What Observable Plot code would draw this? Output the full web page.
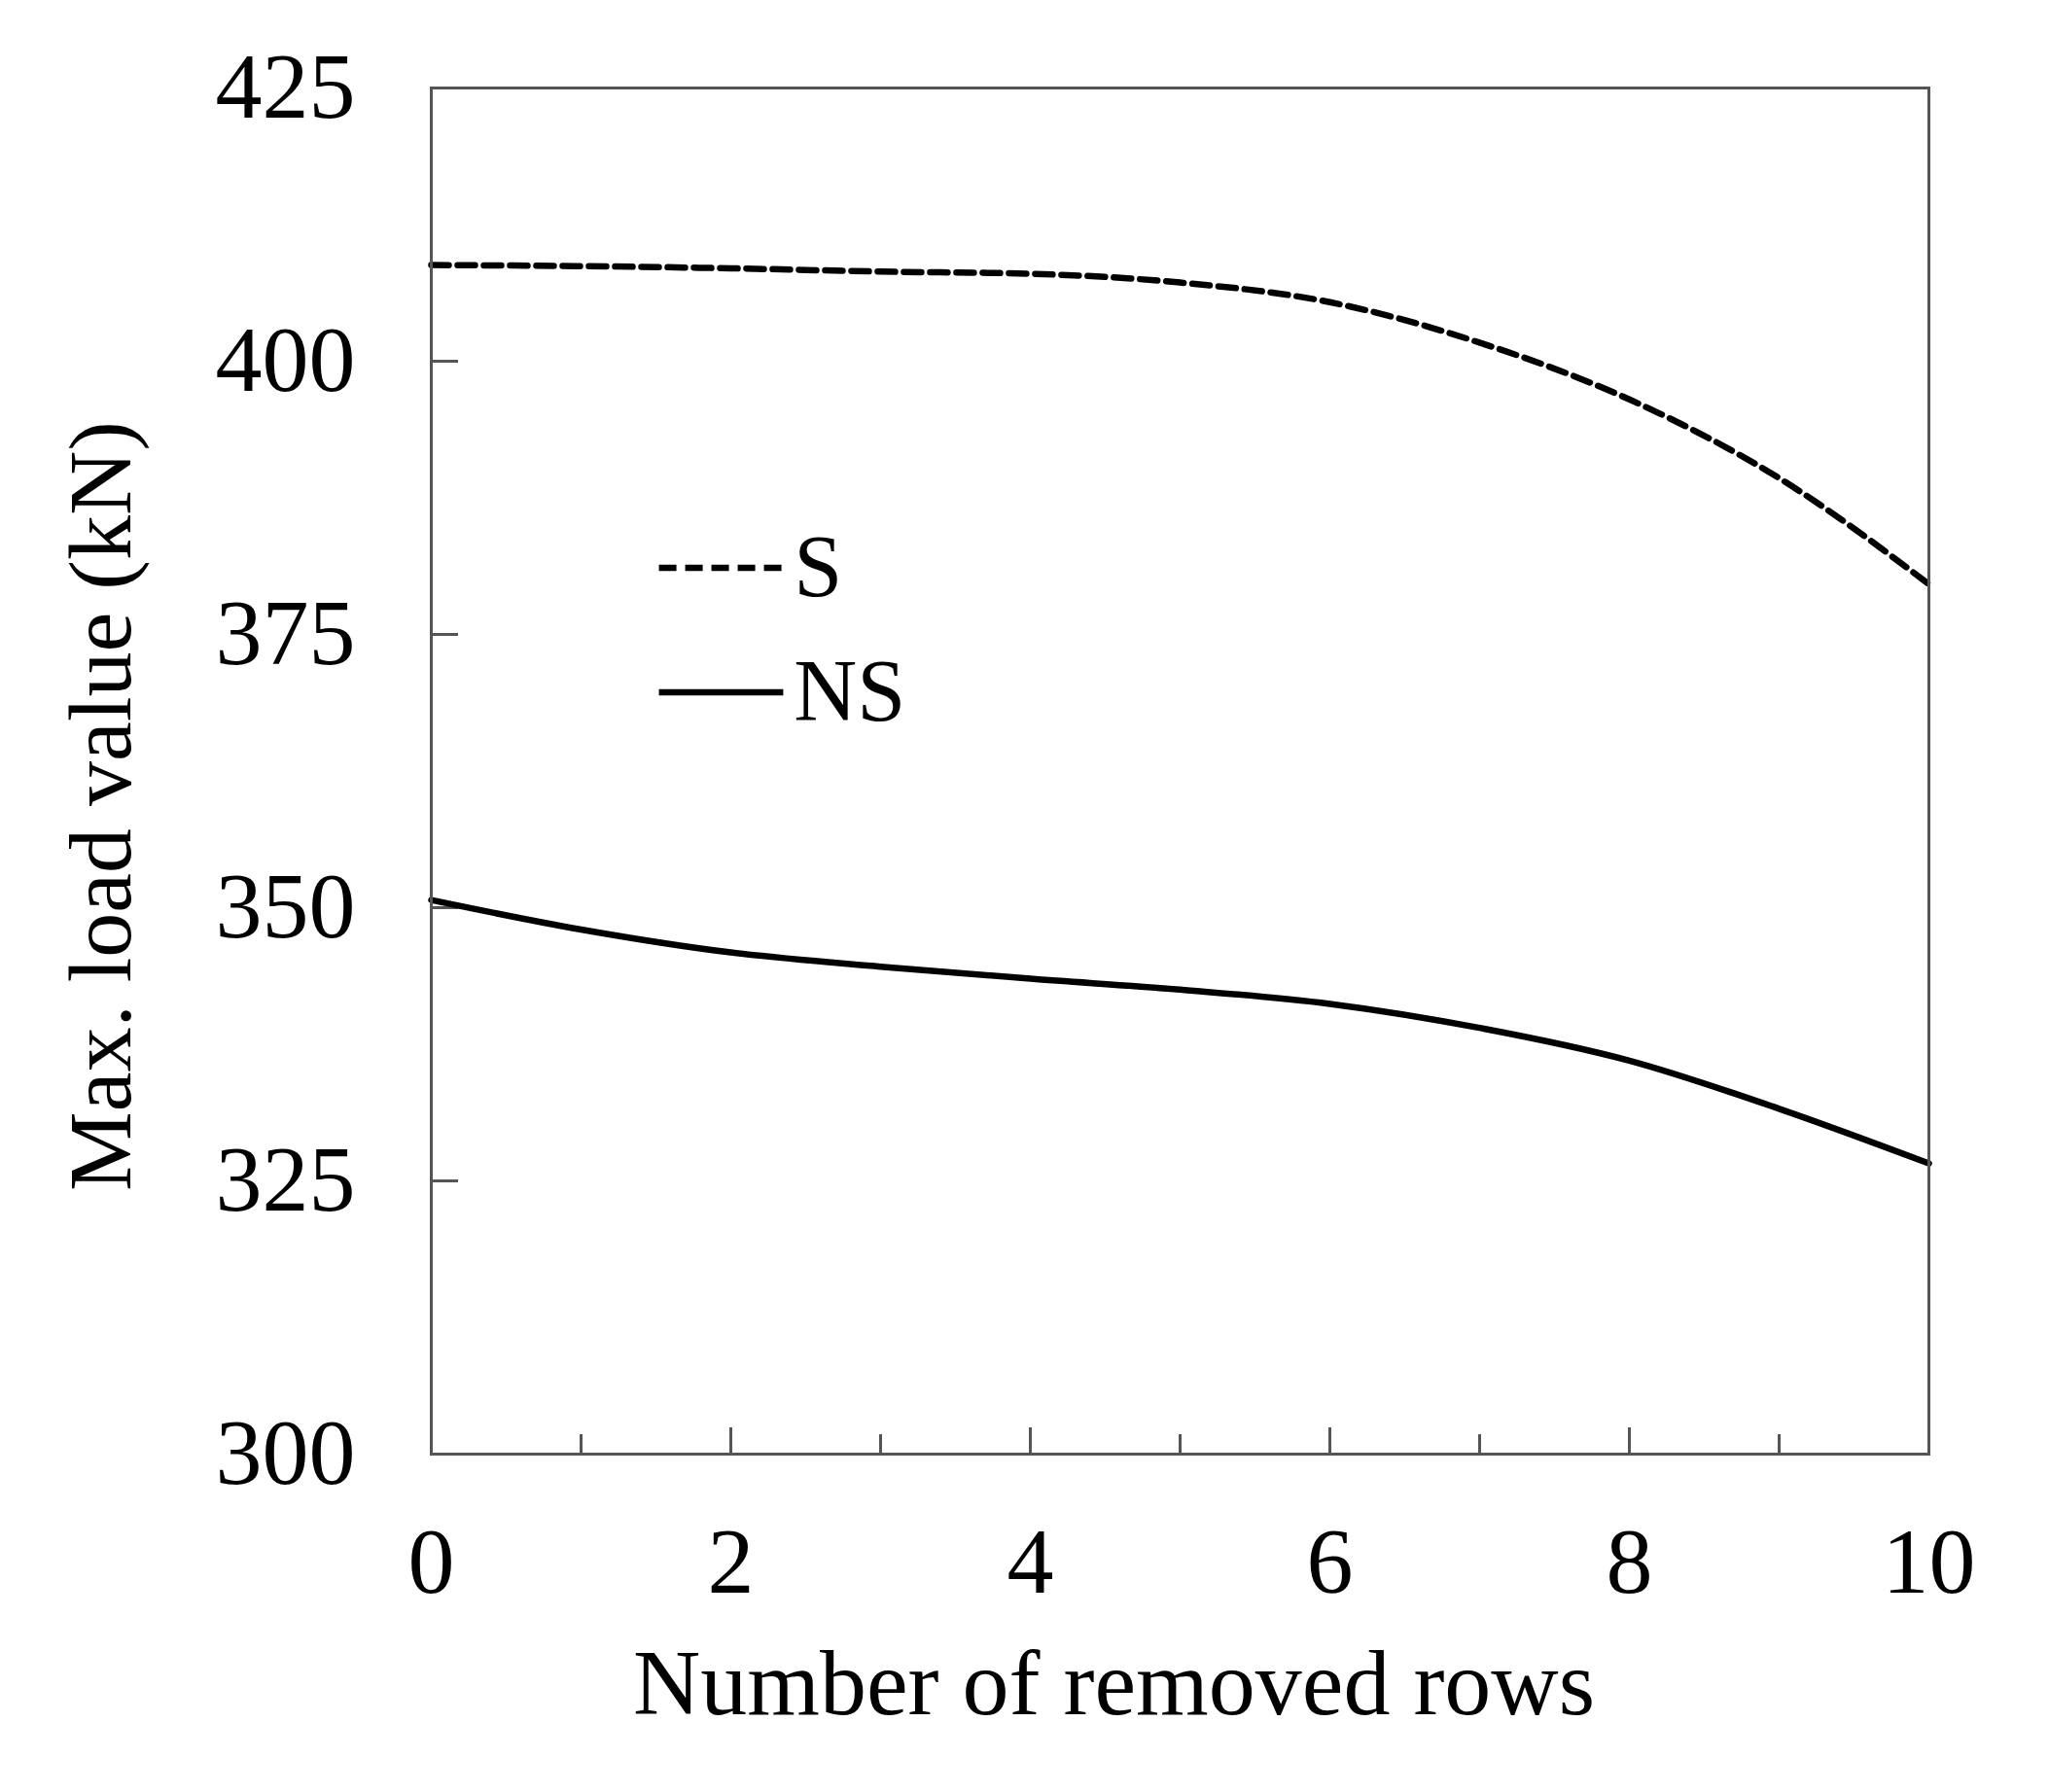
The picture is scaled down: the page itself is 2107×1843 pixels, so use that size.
<!DOCTYPE html>
<html>
<head>
<meta charset="utf-8">
<script src="https://cdn.jsdelivr.net/npm/d3@7"></script>
<script src="https://cdn.jsdelivr.net/npm/@observablehq/plot@0.6"></script>
<style>
  html, body { margin: 0; padding: 0; background: #fff; }
  #chart svg { display: block; }
</style>
</head>
<body>
<div id="chart"></div>
<script>
// ---- data ----
const removedRows = [0, 1, 2, 3, 4, 5, 6, 7, 8, 9, 10];
const seriesS  = [408.8, 408.7, 408.5, 408.2, 408.0, 407.2, 405.4, 401.7, 396.5, 389.3, 379.6];
const seriesNS = [350.7, 348.0, 345.9, 344.6, 343.5, 342.5, 341.2, 339.0, 336.0, 331.6, 326.6];
const xMajorTicks = [0, 2, 4, 6, 8, 10];
const xMinorTicks = [1, 3, 5, 7, 9];
const yTicks = [300, 325, 350, 375, 400, 425];
const seriesNames = ["S", "NS"];
const xLabel = "Number of removed rows";
const yLabel = "Max. load value (kN)";

// ---- table ----
const rows = [];
removedRows.forEach((r, i) => {
  rows.push({rows: r, load: seriesS[i], series: "S"});
  rows.push({rows: r, load: seriesNS[i], series: "NS"});
});

// legend layout (data-space anchors inside the frame)
const legendS  = [{series: seriesNames[0], x1: 1.52, x2: 2.35, y: 381.1, tx: 2.42}];
const legendNS = [{series: seriesNames[1], x1: 1.52, x2: 2.35, y: 369.7, tx: 2.42}];

const FONT = "'Times New Roman', 'Liberation Serif', serif";
const AXIS = "#555";
const LW = 6.5;
const DASH = "18,9";

const chart = Plot.plot({
  width: 2107,
  height: 1843,
  marginLeft: 443,
  marginRight: 124,
  marginTop: 90,
  marginBottom: 348,
  style: {fontFamily: FONT, fontSize: "96px", color: "#000", background: "#fff"},
  x: {domain: [0, 10]},
  y: {domain: [300, 425]},
  marks: [
    // tick labels
    Plot.axisX({ticks: xMajorTicks, tickSize: 0, tickPadding: 74, label: null, fontSize: 96, tickFormat: d3.format("d")}),
    Plot.axisY({ticks: yTicks, tickSize: 0, tickPadding: 78, label: null, fontSize: 96, tickFormat: d3.format("d")}),
    // inward ticks
    Plot.axisX({ticks: xMajorTicks.filter(d => d > 0 && d < 10), tickSize: -27, fill: "none", stroke: AXIS, strokeWidth: 3, label: null}),
    Plot.axisX({ticks: xMinorTicks, tickSize: -20, fill: "none", stroke: AXIS, strokeWidth: 3, label: null}),
    Plot.axisY({ticks: yTicks.filter(d => d > 300 && d < 425), tickSize: -28, fill: "none", stroke: AXIS, strokeWidth: 3, label: null}),
    // series
    Plot.line(rows.filter(d => d.series === "S"), {x: "rows", y: "load", stroke: "#000", strokeWidth: LW, strokeDasharray: DASH, curve: "monotone-x"}),
    Plot.line(rows.filter(d => d.series === "NS"), {x: "rows", y: "load", stroke: "#000", strokeWidth: LW, curve: "monotone-x"}),
    // frame
    Plot.frame({stroke: AXIS, strokeWidth: 3}),
    // legend
    Plot.link(legendS, {x1: "x1", x2: "x2", y1: "y", y2: "y", stroke: "#000", strokeWidth: LW, strokeDasharray: DASH}),
    Plot.link(legendNS, {x1: "x1", x2: "x2", y1: "y", y2: "y", stroke: "#000", strokeWidth: LW}),
    Plot.text(legendS.concat(legendNS), {x: "tx", y: "y", text: "series", textAnchor: "start", lineAnchor: "middle", fontSize: 90, fill: "#000"}),
    // axis titles
    Plot.text([xLabel], {frameAnchor: "bottom", textAnchor: "middle", dx: -68, dy: 237, lineAnchor: "middle", fontSize: 96, fill: "#000"}),
    Plot.text([yLabel], {frameAnchor: "left", textAnchor: "middle", rotate: -90, dx: -339, dy: 36, lineAnchor: "middle", fontSize: 92, fill: "#000"})
  ]
});

document.getElementById("chart").appendChild(chart);
</script>
</body>
</html>
